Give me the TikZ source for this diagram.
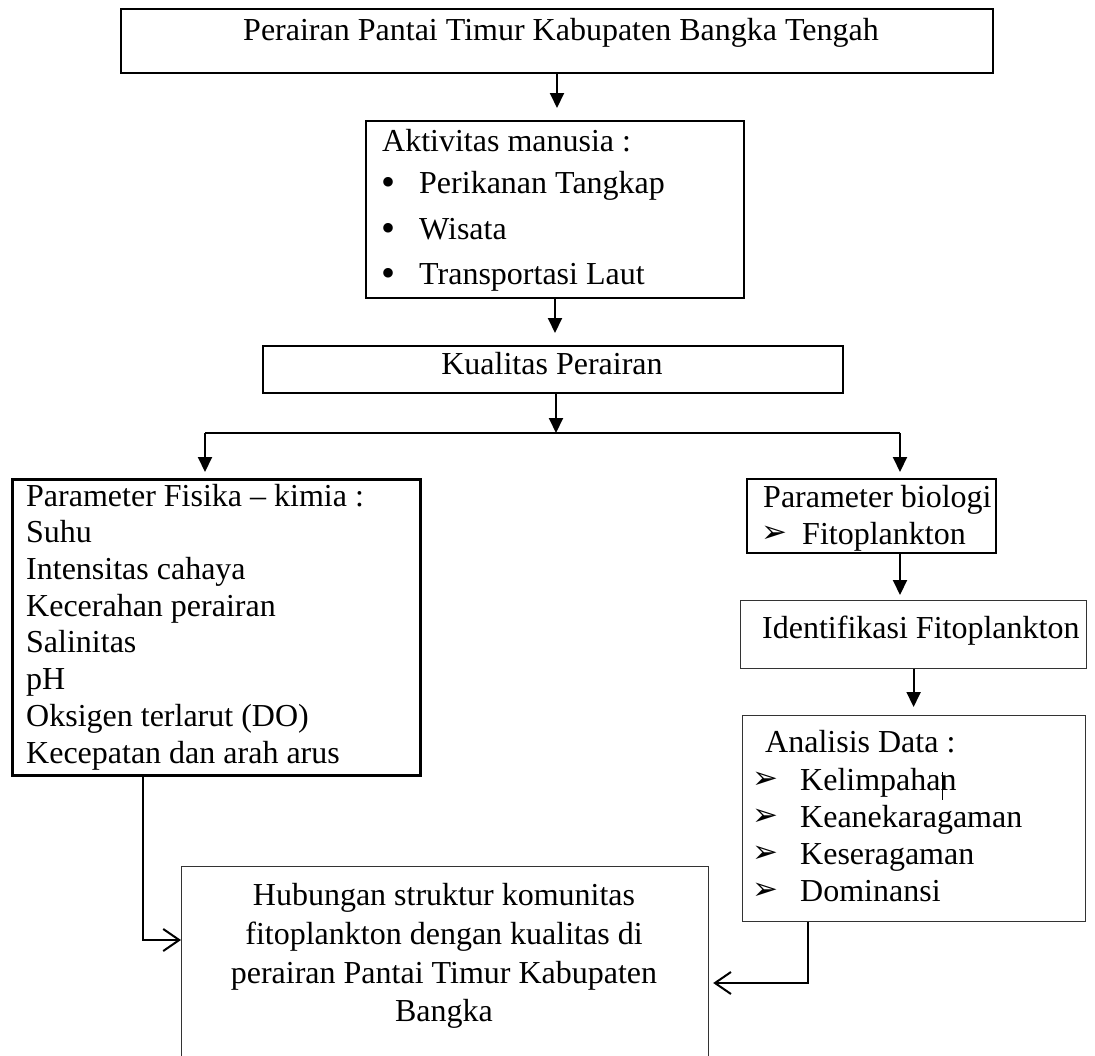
\documentclass[tikz,border=0pt]{standalone}
\usepackage{fontspec}
\setmainfont{Liberation Serif}
\newfontfamily\dejavu{DejaVu Sans}
\usetikzlibrary{arrows.meta}
\tikzset{
  box/.style={draw, line width=#1, inner sep=0pt, anchor=north west},
  box/.default=2pt,
  txt/.style={inner sep=0pt, font=\fontsize{32}{37}\selectfont},
  bul/.style={inner sep=0pt, font=\fontsize{40}{40}\selectfont},
  arr/.style={line width=2pt, -{Triangle[length=15pt,width=14pt]}},
  oarr/.style={line width=2pt, -{Straight Barb[length=16pt,width=22pt,line width=2pt]}},
  mk/.style={inner sep=0pt, font=\dejavu\fontsize{31}{31}\selectfont},
}
\begin{document}
\begin{tikzpicture}[x=1pt,y=-1pt]
\useasboundingbox (0,0) rectangle (1095,1055);
% boxes
\node[box=2pt, minimum width=872pt, minimum height=64pt] (b1) at (120,8) {};
\node[box=2pt, minimum width=378pt, minimum height=177pt] (b2) at (365,120) {};
\node[box=1.6pt, minimum width=580pt, minimum height=47pt] (b3) at (262,345) {};
\node[box=2.5pt, minimum width=408pt, minimum height=296pt] (b4) at (11,478) {};
\node[box=2pt, minimum width=249pt, minimum height=74pt] (b5) at (746,478) {};
\node[box=1.2pt, draw=black!80, minimum width=346pt, minimum height=68pt] (b6) at (740,600) {};
\node[box=1.2pt, draw=black!80, minimum width=343pt, minimum height=206pt] (b7) at (742,715) {};
\node[box=1.2pt, draw=black!80, minimum width=527pt, minimum height=230pt] (b8) at (181,866) {};
% texts
\node[txt, anchor=base] (t1) at (561,40) {Perairan Pantai Timur Kabupaten Bangka Tengah};
\node[txt, anchor=base west] (t2a) at (382,151) {Aktivitas manusia :};
\node[bul, anchor=base] (k2b) at (388,195) {•};
\node[bul, anchor=base] (k2c) at (388,241) {•};
\node[bul, anchor=base] (k2d) at (388,286) {•};
\node[txt, anchor=base west] (t2b) at (419,193) {Perikanan Tangkap};
\node[txt, anchor=base west] (t2c) at (419,239) {Wisata};
\node[txt, anchor=base west] (t2d) at (419,284) {Transportasi Laut};
\node[txt, anchor=base] (t3) at (552,374) {Kualitas Perairan};
\node[txt, anchor=base west] (t4a) at (26,506) {Parameter Fisika – kimia :};
\node[txt, anchor=base west] (t4b) at (26,542.7) {Suhu};
\node[txt, anchor=base west] (t4c) at (26,579.4) {Intensitas cahaya};
\node[txt, anchor=base west] (t4d) at (26,616) {Kecerahan perairan};
\node[txt, anchor=base west] (t4e) at (26,652.8) {Salinitas};
\node[txt, anchor=base west] (t4f) at (26,689.5) {pH};
\node[txt, anchor=base west] (t4g) at (26,726) {Oksigen terlarut (DO)};
\node[txt, anchor=base west] (t4h) at (26,763) {Kecepatan dan arah arus};
\node[txt, anchor=base west] (t5a) at (763,507) {Parameter biologi};
\node[mk, anchor=base west] (m5b) at (761,542) {➢};
\node[txt, anchor=base west] (t5b) at (802,544) {Fitoplankton};
\node[txt, anchor=base west] (t6) at (762,638) {Identifikasi Fitoplankton};
\node[txt, anchor=base west] (t7a) at (765,752) {Analisis Data :};
\node[mk, anchor=base west] (m7b) at (752,788) {➢};
\node[mk, anchor=base west] (m7c) at (752,825) {➢};
\node[mk, anchor=base west] (m7d) at (752,862) {➢};
\node[mk, anchor=base west] (m7e) at (752,899) {➢};
\node[txt, anchor=base west] (t7b) at (800,790) {Kelimpahan};
\node[txt, anchor=base west] (t7c) at (800,827) {Keanekaragaman};
\node[txt, anchor=base west] (t7d) at (800,864) {Keseragaman};
\node[txt, anchor=base west] (t7e) at (800,901) {Dominansi};
\draw[line width=1pt] (942,772) -- (942,800);
\node[txt, anchor=base] (t8a) at (444,905) {Hubungan struktur komunitas};
\node[txt, anchor=base] (t8b) at (444,944) {fitoplankton dengan kualitas di};
\node[txt, anchor=base] (t8c) at (444,983) {perairan Pantai Timur Kabupaten};
\node[txt, anchor=base] (t8d) at (444,1021) {Bangka};
% connectors
\coordinate (jL) at (205,433);
\coordinate (jM) at (556,433);
\coordinate (jR) at (900,433);
\coordinate (lL) at (143,940);
\coordinate (rR) at (808,983);
\draw[arr, shorten >=12pt] (b1.south) -- (b1.south |- b2.north);
\draw[arr, shorten >=12pt] (b2.south) -- (b2.south |- b3.north);
\draw[arr] (b3.south -| jM) -- (jM);
\draw[line width=1.6pt] (jL) -- (jR);
\draw[arr, shorten >=6pt] (jL) -- (jL |- b4.north);
\draw[arr, shorten >=6pt] (jR) -- (jR |- b5.north);
\draw[arr, shorten >=5pt] (b5.south -| jR) -- (jR |- b6.north);
\draw[arr, shorten >=8pt] (b6.south) -- (b6.south |- b7.north);
\draw[oarr] (b4.south -| lL) -- (lL) -- (lL -| b8.west);
\draw[oarr, shorten >=4pt] (b7.south -| rR) -- (rR) -- (rR -| b8.east);
\end{tikzpicture}
\end{document}
